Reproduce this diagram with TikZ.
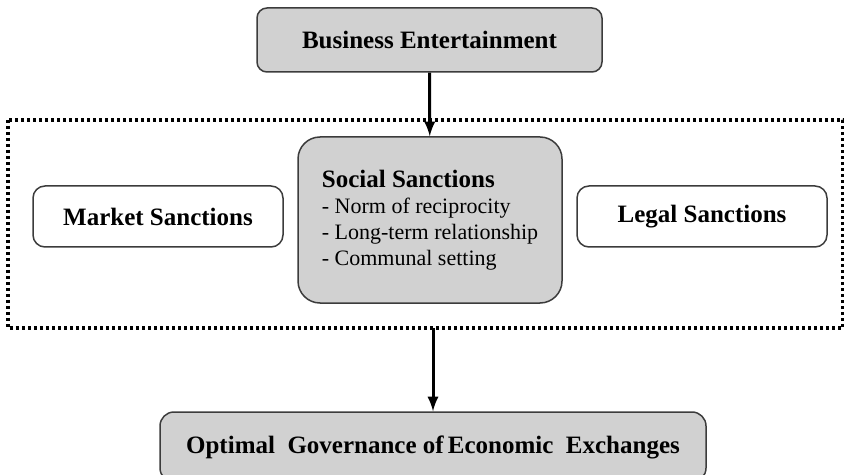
\documentclass[tikz,border=0pt]{standalone}
\usepackage{fontspec}
\setmainfont{Liberation Serif}
\usetikzlibrary{arrows}
\usetikzlibrary{math}
\definecolor{boxgray}{RGB}{209,209,209}
\definecolor{edgegray}{RGB}{60,60,60}

\begin{document}
\begin{tikzpicture}[x=0.5pt,y=-0.5pt,
  box/.style={draw=edgegray, line width=0.75pt, inner sep=0pt, align=center,
    font=\fontsize{12.5}{15}\selectfont\bfseries},
  grey/.style={box, fill=boxgray},
  flow/.style={-latex, line width=1.5pt},
  dotframe/.style={line width=1.6pt, dash pattern=on 1.6pt off 1.4pt}]

\tikzmath{
\W = 844;
\H = 475;
%frame of the three sanctions
\fl = 8;
\fr = 843;
\ft = 120;
\fb = 328;
}

\useasboundingbox (0,0) rectangle (\W,\H);

%boxes
\node[grey, rounded corners=5pt, minimum width=172.5pt, minimum height=32pt]
  (ent) at (429.5,40) {Business Entertainment};
\node[box, rounded corners=6pt, minimum width=125pt, minimum height=30.5pt]
  (market) at (158,216.5) {Market Sanctions};
\node[box, rounded corners=6pt, minimum width=125pt, minimum height=30.5pt]
  (legal) at (702,216.5) {Legal Sanctions};
\node[grey, rounded corners=11pt, minimum width=132pt, minimum height=83pt,
  align=left, font=\fontsize{11}{13}\selectfont]
  (social) at (430,220)
  {{\fontsize{12.5}{13}\selectfont\bfseries Social Sanctions}\\
   - Norm of reciprocity\\
   - Long-term relationship\\
   - Communal setting};
\node[grey, rounded corners=7pt, minimum width=273pt, minimum height=35pt]
  (goal) at (433,447) {Optimal\ \ Governance of\,Economic\ \ Exchanges};

%dotted frame
\draw[dotframe] (\fl,\ft) rectangle (\fr,\fb);
\coordinate (gate) at (433,\fb);

%arrows
\draw[flow] (ent) -- (social);
\draw[flow] (gate) -- (goal);

\end{tikzpicture}
\end{document}
